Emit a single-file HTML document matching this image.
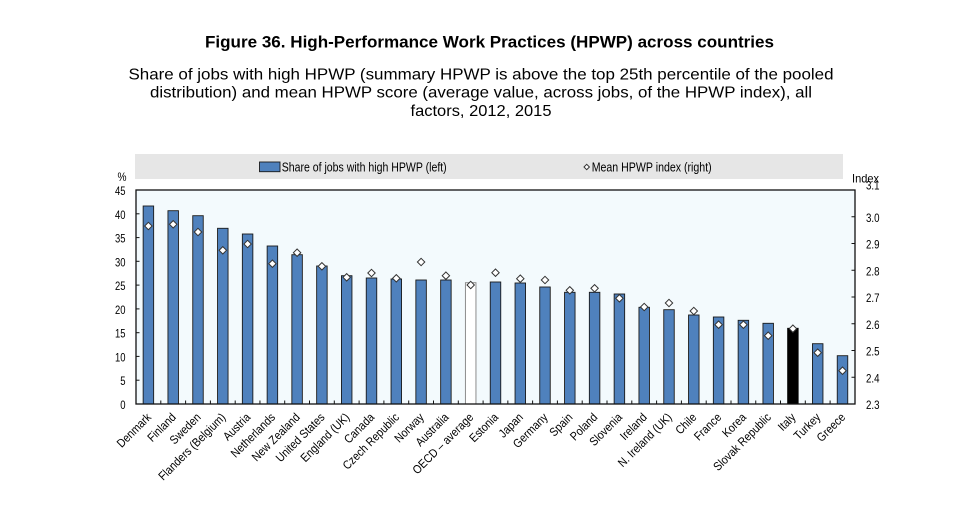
<!DOCTYPE html>
<html>
<head>
<meta charset="utf-8">
<style>
html,body{margin:0;padding:0;background:#fff;}
svg{display:block;}
text{font-family:"Liberation Sans",Arial,sans-serif;fill:#000;}
.tk{font-size:12px;}
.xl{font-size:12px;}
.bar{fill:#4f81bd;stroke:#1a1a1a;stroke-width:0.9;}
.dm{fill:#fff;stroke:#333;stroke-width:1;}
</style>
</head>
<body>
<svg width="969" height="513" viewBox="0 0 969 513" xmlns="http://www.w3.org/2000/svg">
<defs>
<path id="d" d="M0,-3.7L3.7,0L0,3.7L-3.7,0Z"/>
</defs>
<rect x="0" y="0" width="969" height="513" fill="#fff"/>

<!-- Titles -->
<text x="205" y="47.7" font-size="17" font-weight="bold" textLength="569" lengthAdjust="spacingAndGlyphs">Figure 36. High-Performance Work Practices (HPWP) across countries</text>
<text x="481" y="79.3" font-size="16" text-anchor="middle" textLength="705" lengthAdjust="spacingAndGlyphs">Share of jobs with high HPWP (summary HPWP is above the top 25th percentile of the pooled</text>
<text x="481" y="97.7" font-size="16" text-anchor="middle" textLength="662" lengthAdjust="spacingAndGlyphs">distribution) and mean HPWP score (average value, across jobs, of the HPWP index), all</text>
<text x="481" y="116" font-size="16" text-anchor="middle" textLength="141" lengthAdjust="spacingAndGlyphs">factors, 2012, 2015</text>

<!-- Legend -->
<rect x="135" y="154" width="708" height="25" fill="#e6e6e6"/>
<rect x="259.5" y="162" width="20.5" height="9.7" class="bar"/>
<text x="281.7" y="171.3" font-size="12.5" textLength="165" lengthAdjust="spacingAndGlyphs">Share of jobs with high HPWP (left)</text>
<path d="M586.7,164.3L589.4,167L586.7,169.7L584,167Z" class="dm"/>
<text x="591.7" y="171.3" font-size="12.5" textLength="120" lengthAdjust="spacingAndGlyphs">Mean HPWP index (right)</text>

<!-- Plot area -->
<rect x="136" y="190" width="719" height="214" fill="#f3fafd"/>

<!-- Bars -->
<g>
<rect class="bar" x="143.15" y="206" width="10.5" height="198"/>
<rect class="bar" x="167.95" y="210.7" width="10.5" height="193.3"/>
<rect class="bar" x="192.75" y="215.7" width="10.5" height="188.3"/>
<rect class="bar" x="217.55" y="228.3" width="10.5" height="175.7"/>
<rect class="bar" x="242.35" y="234" width="10.5" height="170"/>
<rect class="bar" x="267.15" y="246" width="10.5" height="158"/>
<rect class="bar" x="291.85" y="254.7" width="10.5" height="149.3"/>
<rect class="bar" x="316.65" y="266" width="10.5" height="138"/>
<rect class="bar" x="341.45" y="275.7" width="10.5" height="128.3"/>
<rect class="bar" x="366.25" y="278" width="10.5" height="126"/>
<rect class="bar" x="391.05" y="279" width="10.5" height="125"/>
<rect class="bar" x="415.85" y="280" width="10.5" height="124"/>
<rect class="bar" x="440.65" y="280" width="10.5" height="124"/>
<rect x="465.45" y="282.7" width="10.5" height="121.3" fill="#fff" stroke="#8c8c8c" stroke-width="1"/>
<rect class="bar" x="490.25" y="282" width="10.5" height="122"/>
<rect class="bar" x="515.05" y="283" width="10.5" height="121"/>
<rect class="bar" x="539.75" y="287" width="10.5" height="117"/>
<rect class="bar" x="564.55" y="292.3" width="10.5" height="111.7"/>
<rect class="bar" x="589.35" y="292.3" width="10.5" height="111.7"/>
<rect class="bar" x="614.15" y="294" width="10.5" height="110"/>
<rect class="bar" x="638.95" y="307.3" width="10.5" height="96.7"/>
<rect class="bar" x="663.75" y="309.7" width="10.5" height="94.3"/>
<rect class="bar" x="688.55" y="315" width="10.5" height="89"/>
<rect class="bar" x="713.35" y="317" width="10.5" height="87"/>
<rect class="bar" x="738.15" y="320.3" width="10.5" height="83.7"/>
<rect class="bar" x="762.95" y="323.3" width="10.5" height="80.7"/>
<rect x="787.65" y="328.3" width="10.5" height="75.7" fill="#000" stroke="#000" stroke-width="0.9"/>
<rect class="bar" x="812.45" y="343.7" width="10.5" height="60.3"/>
<rect class="bar" x="837.25" y="355.7" width="10.5" height="48.3"/>
</g>

<!-- Diamonds -->
<g class="dm">
<use href="#d" x="148.4" y="226"/>
<use href="#d" x="173.2" y="224.3"/>
<use href="#d" x="198.0" y="232"/>
<use href="#d" x="222.8" y="250.3"/>
<use href="#d" x="247.6" y="244"/>
<use href="#d" x="272.4" y="263.7"/>
<use href="#d" x="297.1" y="252.7"/>
<use href="#d" x="321.9" y="266.3"/>
<use href="#d" x="346.7" y="277.3"/>
<use href="#d" x="371.5" y="273"/>
<use href="#d" x="396.3" y="278.3"/>
<use href="#d" x="421.1" y="262"/>
<use href="#d" x="445.9" y="275.7"/>
<use href="#d" x="470.7" y="285"/>
<use href="#d" x="495.5" y="272.7"/>
<use href="#d" x="520.3" y="278.7"/>
<use href="#d" x="545.0" y="280"/>
<use href="#d" x="569.8" y="290.3"/>
<use href="#d" x="594.6" y="288.3"/>
<use href="#d" x="619.4" y="298.3"/>
<use href="#d" x="644.2" y="307"/>
<use href="#d" x="669.0" y="303"/>
<use href="#d" x="693.8" y="311"/>
<use href="#d" x="718.6" y="324.7"/>
<use href="#d" x="743.4" y="324.7"/>
<use href="#d" x="768.2" y="335.7"/>
<use href="#d" x="792.9" y="328.7"/>
<use href="#d" x="817.7" y="352.7"/>
<use href="#d" x="842.5" y="370.7"/>
</g>

<!-- Plot border -->
<rect x="136" y="190" width="719" height="214" fill="none" stroke="#111" stroke-width="1.3"/>

<!-- Ticks -->
<g stroke="#111" stroke-width="1">
<line x1="136" y1="213.8" x2="139.5" y2="213.8"/>
<line x1="136" y1="237.6" x2="139.5" y2="237.6"/>
<line x1="136" y1="261.3" x2="139.5" y2="261.3"/>
<line x1="136" y1="285.1" x2="139.5" y2="285.1"/>
<line x1="136" y1="308.9" x2="139.5" y2="308.9"/>
<line x1="136" y1="332.7" x2="139.5" y2="332.7"/>
<line x1="136" y1="356.4" x2="139.5" y2="356.4"/>
<line x1="136" y1="380.2" x2="139.5" y2="380.2"/>
<line x1="851.5" y1="216.75" x2="855" y2="216.75"/>
<line x1="851.5" y1="243.5" x2="855" y2="243.5"/>
<line x1="851.5" y1="270.25" x2="855" y2="270.25"/>
<line x1="851.5" y1="297" x2="855" y2="297"/>
<line x1="851.5" y1="323.75" x2="855" y2="323.75"/>
<line x1="851.5" y1="350.5" x2="855" y2="350.5"/>
<line x1="851.5" y1="377.25" x2="855" y2="377.25"/>
<line x1="160.8" y1="404" x2="160.8" y2="400.5"/>
<line x1="185.6" y1="404" x2="185.6" y2="400.5"/>
<line x1="210.4" y1="404" x2="210.4" y2="400.5"/>
<line x1="235.2" y1="404" x2="235.2" y2="400.5"/>
<line x1="259.95" y1="404" x2="259.95" y2="400.5"/>
<line x1="284.7" y1="404" x2="284.7" y2="400.5"/>
<line x1="309.5" y1="404" x2="309.5" y2="400.5"/>
<line x1="334.3" y1="404" x2="334.3" y2="400.5"/>
<line x1="359.1" y1="404" x2="359.1" y2="400.5"/>
<line x1="383.9" y1="404" x2="383.9" y2="400.5"/>
<line x1="408.7" y1="404" x2="408.7" y2="400.5"/>
<line x1="433.5" y1="404" x2="433.5" y2="400.5"/>
<line x1="458.3" y1="404" x2="458.3" y2="400.5"/>
<line x1="483.1" y1="404" x2="483.1" y2="400.5"/>
<line x1="507.85" y1="404" x2="507.85" y2="400.5"/>
<line x1="532.6" y1="404" x2="532.6" y2="400.5"/>
<line x1="557.4" y1="404" x2="557.4" y2="400.5"/>
<line x1="582.2" y1="404" x2="582.2" y2="400.5"/>
<line x1="607" y1="404" x2="607" y2="400.5"/>
<line x1="631.8" y1="404" x2="631.8" y2="400.5"/>
<line x1="656.6" y1="404" x2="656.6" y2="400.5"/>
<line x1="681.4" y1="404" x2="681.4" y2="400.5"/>
<line x1="706.2" y1="404" x2="706.2" y2="400.5"/>
<line x1="731" y1="404" x2="731" y2="400.5"/>
<line x1="755.75" y1="404" x2="755.75" y2="400.5"/>
<line x1="780.5" y1="404" x2="780.5" y2="400.5"/>
<line x1="805.3" y1="404" x2="805.3" y2="400.5"/>
<line x1="830.1" y1="404" x2="830.1" y2="400.5"/>
</g>

<!-- Left axis labels -->
<g class="tk" text-anchor="end">
<text x="126.5" y="181" textLength="9" lengthAdjust="spacingAndGlyphs">%</text>
<text x="125.5" y="195" textLength="10.5" lengthAdjust="spacingAndGlyphs">45</text>
<text x="125.5" y="218.8" textLength="10.5" lengthAdjust="spacingAndGlyphs">40</text>
<text x="125.5" y="242.6" textLength="10.5" lengthAdjust="spacingAndGlyphs">35</text>
<text x="125.5" y="266.3" textLength="10.5" lengthAdjust="spacingAndGlyphs">30</text>
<text x="125.5" y="290.1" textLength="10.5" lengthAdjust="spacingAndGlyphs">25</text>
<text x="125.5" y="313.9" textLength="10.5" lengthAdjust="spacingAndGlyphs">20</text>
<text x="125.5" y="337.7" textLength="10.5" lengthAdjust="spacingAndGlyphs">15</text>
<text x="125.5" y="361.4" textLength="10.5" lengthAdjust="spacingAndGlyphs">10</text>
<text x="125.5" y="385.2" textLength="5.3" lengthAdjust="spacingAndGlyphs">5</text>
<text x="125.5" y="409" textLength="5.3" lengthAdjust="spacingAndGlyphs">0</text>
</g>

<!-- Right axis labels -->
<g class="tk">
<text x="852" y="182.7" textLength="27" lengthAdjust="spacingAndGlyphs">Index</text>
<text x="866" y="189.5" textLength="13.5" lengthAdjust="spacingAndGlyphs">3.1</text>
<text x="866" y="221.8" textLength="13.5" lengthAdjust="spacingAndGlyphs">3.0</text>
<text x="866" y="248.5" textLength="13.5" lengthAdjust="spacingAndGlyphs">2.9</text>
<text x="866" y="275.3" textLength="13.5" lengthAdjust="spacingAndGlyphs">2.8</text>
<text x="866" y="302" textLength="13.5" lengthAdjust="spacingAndGlyphs">2.7</text>
<text x="866" y="328.8" textLength="13.5" lengthAdjust="spacingAndGlyphs">2.6</text>
<text x="866" y="355.5" textLength="13.5" lengthAdjust="spacingAndGlyphs">2.5</text>
<text x="866" y="382.3" textLength="13.5" lengthAdjust="spacingAndGlyphs">2.4</text>
<text x="866" y="409" textLength="13.5" lengthAdjust="spacingAndGlyphs">2.3</text>
</g>

<!-- X axis labels -->
<g class="xl" text-anchor="end">
<text transform="translate(151.9,418) rotate(-45) scale(0.88,1)">Denmark</text>
<text transform="translate(176.7,418) rotate(-45) scale(0.88,1)">Finland</text>
<text transform="translate(201.5,418) rotate(-45) scale(0.88,1)">Sweden</text>
<text transform="translate(226.3,418) rotate(-45) scale(0.88,1)">Flanders (Belgium)</text>
<text transform="translate(251.1,418) rotate(-45) scale(0.88,1)">Austria</text>
<text transform="translate(275.9,418) rotate(-45) scale(0.88,1)">Netherlands</text>
<text transform="translate(300.6,418) rotate(-45) scale(0.88,1)">New Zealand</text>
<text transform="translate(325.4,418) rotate(-45) scale(0.88,1)">United States</text>
<text transform="translate(350.2,418) rotate(-45) scale(0.88,1)">England (UK)</text>
<text transform="translate(375,418) rotate(-45) scale(0.88,1)">Canada</text>
<text transform="translate(399.8,418) rotate(-45) scale(0.88,1)">Czech Republic</text>
<text transform="translate(424.6,418) rotate(-45) scale(0.88,1)">Norway</text>
<text transform="translate(449.4,418) rotate(-45) scale(0.88,1)">Australia</text>
<text transform="translate(474.2,418) rotate(-45) scale(0.88,1)">OECD – average</text>
<text transform="translate(499,418) rotate(-45) scale(0.88,1)">Estonia</text>
<text transform="translate(523.8,418) rotate(-45) scale(0.88,1)">Japan</text>
<text transform="translate(548.5,418) rotate(-45) scale(0.88,1)">Germany</text>
<text transform="translate(573.3,418) rotate(-45) scale(0.88,1)">Spain</text>
<text transform="translate(598.1,418) rotate(-45) scale(0.88,1)">Poland</text>
<text transform="translate(622.9,418) rotate(-45) scale(0.88,1)">Slovenia</text>
<text transform="translate(647.7,418) rotate(-45) scale(0.88,1)">Ireland</text>
<text transform="translate(672.5,418) rotate(-45) scale(0.88,1)">N. Ireland (UK)</text>
<text transform="translate(697.3,418) rotate(-45) scale(0.88,1)">Chile</text>
<text transform="translate(722.1,418) rotate(-45) scale(0.88,1)">France</text>
<text transform="translate(746.9,418) rotate(-45) scale(0.88,1)">Korea</text>
<text transform="translate(771.7,418) rotate(-45) scale(0.88,1)">Slovak Republic</text>
<text transform="translate(796.4,418) rotate(-45) scale(0.88,1)">Italy</text>
<text transform="translate(821.2,418) rotate(-45) scale(0.88,1)">Turkey</text>
<text transform="translate(846,418) rotate(-45) scale(0.88,1)">Greece</text>
</g>
</svg>
</body>
</html>
